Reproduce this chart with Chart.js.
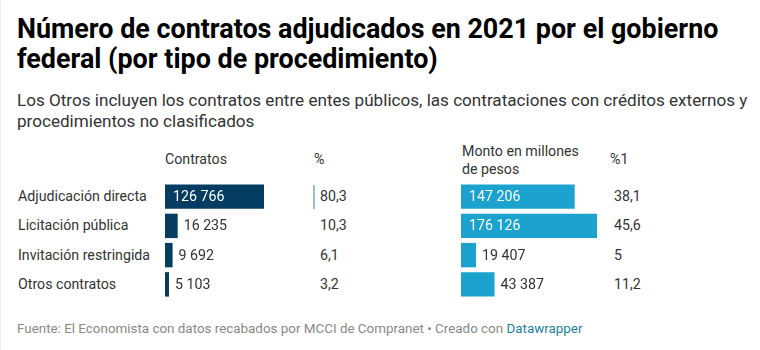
<!DOCTYPE html>
<html>
<head>
<meta charset="utf-8">
<script src="https://cdn.jsdelivr.net/npm/chart.js@4"></script>
<style>
  body { margin: 0; background: #fff; font-family: Roboto, sans-serif; color: #333; }
  #wrap { position: relative; width: 760px; height: 350px; border-left: 1px solid #eee; box-sizing: border-box; }
  .t { position: absolute; white-space: nowrap; }
  h1 { position: absolute; left: 16px; top: 14px; margin: 0; font-size: 26.9px; line-height: 30px; font-weight: 700; color: #000; white-space: nowrap; }
  #sub { left: 16px; top: 90px; font-size: 17.1px; line-height: 20.5px; color: #333; }
  .hd { font-size: 14.2px; line-height: 18px; color: #333; }
  .cell { font-size: 14.2px; line-height: 20px; color: #333; }
  #foot { left: 16px; top: 321px; font-size: 13.4px; color: #888; }
  #foot span { color: #1d81a2; }
  canvas { position: absolute; }
</style>
</head>
<body>
<div id="wrap">
  <h1>Número de contratos adjudicados en 2021 por el gobierno<br>federal (por tipo de procedimiento)</h1>
  <div class="t" id="sub">Los Otros incluyen los contratos entre entes públicos, las contrataciones con créditos externos y<br>procedimientos no clasificados</div>
  <div class="t hd" style="left:164px;top:150px">Contratos</div>
  <div class="t hd" style="left:313px;top:150px">%</div>
  <div class="t hd" style="left:461px;top:142px">Monto en millones<br>de pesos</div>
  <div class="t hd" style="left:609px;top:150px">%1</div>
  <div id="rows"></div>
  <canvas id="c1" width="140" height="117" style="left:164px;top:182px"></canvas>
  <canvas id="c2" width="150" height="117" style="left:460px;top:182px"></canvas>
  <div class="t" id="foot">Fuente: El Economista con datos recabados por MCCI de Compranet • Creado con <span>Datawrapper</span></div>
</div>
<script>
const categories = ['Adjudicación directa', 'Licitación pública', 'Invitación restringida', 'Otros contratos'];
const contratos = [126766, 16235, 9692, 5103];
const pctContratos = ['80,3', '10,3', '6,1', '3,2'];
const monto = [147206, 176126, 19407, 43387];
const pctMonto = ['38,1', '45,6', '5', '11,2'];

const rowTop = 182;
const rowH = 29.3;

function fmt(n) {
    return String(n).replace(/\B(?=(\d{3})+(?!\d))/g, ' ');
}

// text cells of the table
const rows = document.getElementById('rows');
categories.forEach((cat, i) => {
    const y = rowTop + i * rowH + 4;
    rows.innerHTML += `
        <div class="t cell" style="left:17px;top:${y}px">${cat}</div>
        <div class="t cell" style="left:319px;top:${y}px">${pctContratos[i]}</div>
        <div class="t cell" style="left:613px;top:${y}px">${pctMonto[i]}</div>`;
});
// thin marker in the first % cell
rows.innerHTML += `<div class="t" style="left:312px;top:185px;width:2px;height:24px;background:#8fc1de"></div>`;

const valueLabels = {
    id: 'valueLabels',
    afterDatasetsDraw(chart) {
        const ctx = chart.ctx;
        const meta = chart.getDatasetMeta(0);
        const data = chart.data.datasets[0].data;
        ctx.save();
        ctx.font = '14.2px Roboto';
        ctx.textBaseline = 'middle';
        meta.data.forEach((bar, i) => {
            const w = bar.x - bar.base;
            const txt = fmt(data[i]);
            if (w > 60) {
                ctx.fillStyle = '#fff';
                ctx.fillText(txt, bar.base + 8, bar.y + 1);
            } else {
                ctx.fillStyle = '#333';
                ctx.fillText(txt, bar.x + 6, bar.y + 1);
            }
        });
        ctx.restore();
    }
};

function barChart(id, values, color, maxVal) {
    return new Chart(document.getElementById(id), {
        type: 'bar',
        data: {
            labels: categories,
            datasets: [{
                data: values,
                backgroundColor: color,
                borderWidth: 0,
                barPercentage: 1,
                categoryPercentage: 0.835
            }]
        },
        options: {
            indexAxis: 'y',
            responsive: false,
            animation: false,
            layout: { padding: 0 },
            plugins: { legend: { display: false }, tooltip: { enabled: false } },
            scales: {
                x: { display: false, min: 0, max: maxVal },
                y: { display: false }
            }
        },
        plugins: [valueLabels]
    });
}

// bar 126 766 is ~99px long, 176 126 is ~136px long
barChart('c1', contratos, '#053d62', 126766 * 140 / 99);
barChart('c2', monto, '#1ba2ce', 176126 * 150 / 136);
</script>
</body>
</html>
